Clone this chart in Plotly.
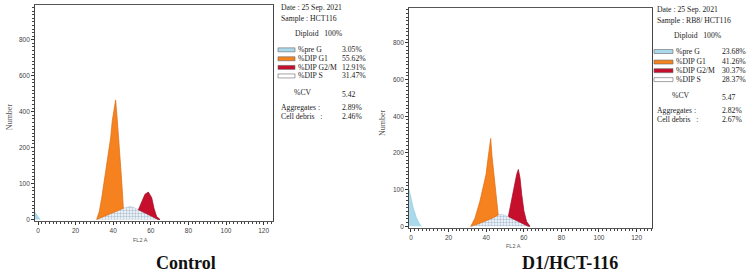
import numpy as np
import plotly.graph_objects as go

W, H = 748, 272

# ---------------- data (FL2 A channel, counts in instrument tick units) ----------------
x_ticks = [0, 20, 40, 60, 80, 100, 120]
y_tick_labels = [0, 100, 200, 400, 600, 800]

# Control
c_preg_x = [-1.6, -1.2, -0.5, 0.5, 1.1]
c_preg_y = [20, 17, 10, 3, 0]
c_s_x = [31.2, 36, 41.3, 45.4, 48.9, 51, 53.4, 57, 60, 63.8]
c_s_y = [0, 11, 22, 31, 36, 33, 27, 18, 10, 0]
c_g1_x = [31.2, 32.6, 33.9, 34.7, 36.2, 37.4, 38.7, 39.5, 40.6, 41.3, 42.2, 42.9, 43.6, 44.5, 45.4]
c_g1_y = [0, 22, 60, 89, 136, 184, 259, 350, 421, 465, 350, 259, 184, 108, 31]
c_g2_x = [53.4, 55.2, 56.9, 58.7, 60.5, 61.7, 63.1, 64.9]
c_g2_y = [27, 51, 70, 76, 60, 31, 8, 0]

# D1/HCT-116
d_preg_x = [-1.0, -0.5, 1.2, 3.0, 4.8, 5.7]
d_preg_y = [100, 87, 50, 22, 4, 0]
d_s_x = [31.8, 36, 40, 44, 46.4, 47.5, 49.5, 52, 55, 58, 60.5, 62.4]
d_s_y = [0, 7, 15, 24, 31, 33, 31, 26, 19, 11, 5, 0]
d_g1_x = [31.8, 34.0, 36.7, 38.5, 39.9, 41.0, 41.6, 42.4, 43.1, 44.1, 45.2, 46.4]
d_g1_y = [0, 22, 69, 105, 141, 186, 226, 279, 191, 141, 85, 33]
d_g2_x = [51.8, 52.7, 54.1, 55.3, 56.2, 57.1, 58.0, 58.9, 60.1, 61.5, 63.3]
d_g2_y = [27, 50, 87, 124, 141, 155, 132, 87, 41, 13, 0]

legend_names = ["%pre G", "%DIP G1", "%DIP G2/M", "%DIP S"]
c_pct = ["3.05%", "55.62%", "12.91%", "31.47%"]
d_pct = ["23.68%", "41.26%", "30.37%", "28.37%"]
c_cv, d_cv = "5.42", "5.47"
c_agg, c_deb = "2.89%", "2.46%"
d_agg, d_deb = "2.82%", "2.67%"
c_sample, d_sample = "HCT116", "RB8/ HCT116"
panel_titles = ["Control", "D1/HCT-116"]

# ---------------- styling ----------------
BLUE = "#a9d9ea"
ORANGE = "#f5821f"
RED = "#c50f2c"
SDOT = "#5f84ad"
TXT = "#1a1a1a"
SERIF = "Liberation Serif"
SANS = "Liberation Sans"

# instrument's y scale: tick labels are evenly spaced
y_idx = np.arange(len(y_tick_labels))


def ys(v):
    return np.interp(np.asarray(v, float), y_tick_labels, y_idx)


def poly(upper_x, upper_y, lower_x, lower_y):
    """closed outline: along upper curve, back along lower curve"""
    lx, ly = np.asarray(lower_x, float), np.asarray(lower_y, float)
    lo_at = np.interp(upper_x, lx, ly)
    xs = list(upper_x)
    yv = list(upper_y)
    mask = (lx >= min(upper_x)) & (lx <= max(upper_x))
    back_x = list(lx[mask][::-1])
    back_y = list(ly[mask][::-1])
    if upper_y[-1] != lo_at[-1]:
        back_x = [upper_x[-1]] + back_x
        back_y = [float(lo_at[-1])] + back_y
    return xs + back_x, list(ys(yv + back_y))


fig = go.Figure()


def add_panel(ax, preg, s, g1, g2):
    xa, ya = "x" + ax, "y" + ax
    fig.add_trace(go.Scatter(x=preg[0], y=ys(preg[1]), xaxis=xa, yaxis=ya, mode="lines",
                             fill="tozeroy", fillcolor=BLUE, line=dict(color="#8cc8de", width=0.6),
                             showlegend=False, hoverinfo="skip"))
    fig.add_trace(go.Scatter(x=s[0], y=ys(s[1]), xaxis=xa, yaxis=ya, mode="lines",
                             fill="tozeroy",
                             fillpattern=dict(shape=".", fgcolor=SDOT, bgcolor="white", size=3, solidity=0.5),
                             line=dict(color="#b9c9da", width=0.6), showlegend=False, hoverinfo="skip"))
    px, py = poly(g1[0], g1[1], s[0], s[1])
    fig.add_trace(go.Scatter(x=px, y=py, xaxis=xa, yaxis=ya, mode="lines", fill="toself",
                             fillcolor=ORANGE, line=dict(color="#e06a10", width=0.7),
                             showlegend=False, hoverinfo="skip"))
    px, py = poly(g2[0], g2[1], s[0], s[1])
    fig.add_trace(go.Scatter(x=px, y=py, xaxis=xa, yaxis=ya, mode="lines", fill="toself",
                             fillcolor=RED, line=dict(color="#a00a22", width=0.7),
                             showlegend=False, hoverinfo="skip"))


add_panel("", (c_preg_x, c_preg_y), (c_s_x, c_s_y), (c_g1_x, c_g1_y), (c_g2_x, c_g2_y))
add_panel("2", (d_preg_x, d_preg_y), (d_s_x, d_s_y), (d_g1_x, d_g1_y), (d_g2_x, d_g2_y))


def fx(px):
    return px / W


def fy(py):
    return 1 - py / H


def xaxis_cfg(dom, rng):
    return dict(domain=dom, range=rng, tickmode="array", tickvals=x_ticks,
                ticktext=[str(v) for v in x_ticks], ticks="outside", ticklen=3, tickwidth=0.8,
                tickcolor="#333", showline=True, linecolor="#555", linewidth=0.8, mirror=True,
                showgrid=False, zeroline=False,
                tickfont=dict(family=SANS, size=6.5, color="#444"),
                minor=dict(dtick=2, tick0=0, ticks="outside", ticklen=2, tickcolor="#444", tickwidth=0.7))


def yaxis_cfg(dom, rng, anchor):
    return dict(domain=dom, range=rng, anchor=anchor, tickmode="array", tickvals=list(y_idx),
                ticktext=[str(v) for v in y_tick_labels], ticks="outside", ticklen=3, tickwidth=0.8,
                tickcolor="#333", showline=True, linecolor="#444", linewidth=0.8, mirror=True,
                showgrid=False, zeroline=False,
                tickfont=dict(family=SANS, size=6.5, color="#444"),
                minor=dict(dtick=0.1, tick0=0, ticks="outside", ticklen=2, tickcolor="#444", tickwidth=0.7))


layout = dict(
    width=W, height=H, margin=dict(l=0, r=0, t=0, b=0),
    paper_bgcolor="white", plot_bgcolor="white", showlegend=False,
    xaxis=dict(xaxis_cfg([fx(35), fx(273)], [-1.6, 125.0]), anchor="y"),
    yaxis=yaxis_cfg([fy(222.5), fy(5)], [-0.04, 5.97], "x"),
    xaxis2=dict(xaxis_cfg([fx(409), fx(652)], [-1.06, 128.2]), anchor="y2"),
    yaxis2=yaxis_cfg([fy(230), fy(8)], [-0.054, 5.95], "x2"),
)
fig.update_layout(**layout)

ann = []
shapes = []


def txt(px, py, s, size=7.7, family=SERIF, color=TXT, **kw):
    d = dict(x=fx(px), y=fy(py), xref="paper", yref="paper", text=s, showarrow=False,
             xanchor="left", yanchor="middle", font=dict(family=family, size=size, color=color))
    d.update(kw)
    ann.append(d)


def side_panel(x0, ytop, sample, pcts, cv, agg, deb, sw, valx, dip_x, cv_x, rows, cvy, aggy):
    txt(x0, ytop, "Date : 25 Sep. 2021")
    txt(x0, ytop + 10.7, "Sample : " + sample)
    txt(dip_x, ytop + 26, "Diploid   100%")
    fills = [BLUE, ORANGE, RED, "white"]
    for i, (nm, p) in enumerate(zip(legend_names, pcts)):
        ry = rows[i]
        shapes.append(dict(type="rect", xref="paper", yref="paper", x0=fx(sw[0]), x1=fx(sw[1]),
                           y0=fy(ry + 2.2), y1=fy(ry - 1.8), fillcolor=fills[i],
                           line=dict(color="#666", width=0.6)))
        txt(sw[1] + 0.5, ry, nm)
        txt(valx, ry, p)
    txt(cv_x, cvy, "%CV")
    txt(valx, cvy + 2, cv)
    txt(x0, aggy, "Aggregates :")
    txt(valx, aggy, agg)
    txt(x0, aggy + 9, "Cell debris   :")
    txt(valx, aggy + 9, deb)


side_panel(279, 7.5, c_sample, c_pct, c_cv, c_agg, c_deb, (278, 295), 340, 293, 292,
           [50, 59, 67.7, 76.3], 93, 108.3)
side_panel(655, 9.5, d_sample, d_pct, d_cv, d_agg, d_deb, (654, 673), 720, 672, 670,
           [51.7, 62.3, 71, 80], 96.7, 111.7)

# axis titles
txt(140, 242, "FL2 A", size=5.5, family=SANS, color="#555", xanchor="center")
txt(513, 248, "FL2 A", size=5.5, family=SANS, color="#555", xanchor="center")
txt(9, 118, "Number", size=8, family=SERIF, color="#555", xanchor="center", textangle=-90)
txt(382, 124, "Number", size=8, family=SERIF, color="#555", xanchor="center", textangle=-90)

# panel titles
txt(186, 264.5, "<b>" + panel_titles[0] + "</b>", size=18, family=SERIF, color="#111", xanchor="center")
txt(570, 264.5, "<b>" + panel_titles[1] + "</b>", size=18, family=SERIF, color="#111", xanchor="center")

fig.update_layout(annotations=ann, shapes=shapes)
fig.write_html("out.html", config={"displayModeBar": False},
               post_script="document.body.style.margin='0';document.body.style.overflow='hidden';")
